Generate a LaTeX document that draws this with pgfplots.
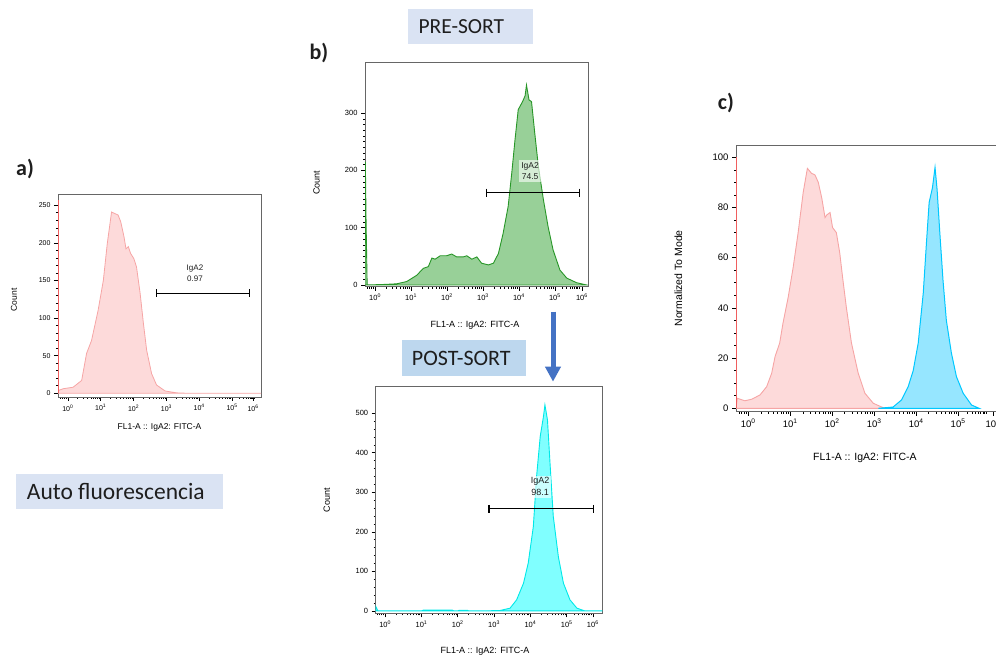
\documentclass[border=0pt]{standalone}
\usepackage{pgfplots}
\pgfplotsset{compat=1.18}
\usepackage{fontspec}
\setmainfont{Liberation Sans}
\newfontfamily\calfont{Carlito}
\usetikzlibrary{arrows.meta}

\definecolor{pinkfill}{RGB}{253,218,218}
\definecolor{pinkline}{RGB}{246,165,165}
\definecolor{pinkspike}{RGB}{240,95,95}
\definecolor{greenfill}{RGB}{152,208,152}
\definecolor{greenline}{RGB}{40,150,40}
\definecolor{cyanfill}{RGB}{128,255,255}
\definecolor{cyanline}{RGB}{0,232,232}
\definecolor{skyfill}{RGB}{150,230,255}
\definecolor{skyline}{RGB}{0,200,255}
\definecolor{boxA}{RGB}{218,227,243}
\definecolor{boxB}{RGB}{189,215,238}
\definecolor{arrowblue}{RGB}{68,114,196}
\definecolor{txt}{RGB}{30,30,30}

\pgfplotsset{
  flow/.style={
    scale only axis,
    anchor=south west,
    axis line style={draw=black!60, line width=0.8pt},
    tick align=outside, tick pos=left,
    major tick length=4pt, minor tick length=2pt,
    every tick/.style={black, line width=0.6pt},
    xticklabels={10\textsuperscript{0},10\textsuperscript{1},10\textsuperscript{2},10\textsuperscript{3},10\textsuperscript{4},10\textsuperscript{5},10\textsuperscript{6}},
    minor xtick={-0.222,-0.155,-0.097,-0.046,
      0.301,0.477,0.602,0.699,0.778,0.845,0.903,0.954,
      1.301,1.477,1.602,1.699,1.778,1.845,1.903,1.954,
      2.301,2.477,2.602,2.699,2.778,2.845,2.903,2.954,
      3.301,3.477,3.602,3.699,3.778,3.845,3.903,3.954,
      4.301,4.477,4.602,4.699,4.778,4.845,4.903,4.954,
      5.21,5.33,5.42,5.49,5.54,5.59,5.63,5.67},
    /pgf/number format/assume math mode=true,
    xlabel={FL1-A :: IgA2: FITC-A},
    xlabel style={anchor=center},
    ylabel style={anchor=center},
  },
  gate/.style={black, line width=1.1pt, mark=|, mark size=4pt, mark options={line width=1.1pt}},
}

\begin{document}
\begin{tikzpicture}
\useasboundingbox (0,0) rectangle (996pt,658pt);
\clip (0,0) rectangle (996pt,658pt);

% ---------- panel a ----------
\begin{axis}[flow, at={(58pt,261pt)}, width=203pt, height=203pt,
  xmin=-0.30, xmax=5.88, ymin=-5, ymax=265,
  xtick={0,1,2,3,4,5,5.64},
  ytick={0,50,100,150,200,250}, minor y tick num=4,
  tick label style={font=\fontsize{7}{8}\selectfont},
  label style={font=\fontsize{8.5}{10}\selectfont},
  ylabel={Count},
  xlabel style={at={(rel axis cs:0.5,-0.152)}},
  ylabel style={at={(rel axis cs:-0.217,0.478)}}]
\addplot[draw=pinkline, fill=pinkfill, line width=0.8pt] coordinates {
(-0.29,0) (-0.27,4) (-0.14,6) (0.16,8) (0.42,17) (0.57,53) (0.72,70) (0.92,110)
(1.08,150) (1.20,199) (1.33,241) (1.43,239) (1.53,237) (1.61,228) (1.71,208)
(1.77,192) (1.84,195) (1.91,186) (2.01,179) (2.09,168) (2.20,133) (2.30,93)
(2.40,57) (2.55,26) (2.70,11) (2.96,3) (3.31,0.5) (3.62,0) (5.88,0)} \closedcycle;
\addplot[pinkspike, line width=1pt] coordinates {(-0.29,0) (-0.29,257)};
\addplot[gate] coordinates {(2.71,133) (5.52,133)};
\node[font=\fontsize{8}{11}\selectfont, align=center, text=txt] at (axis cs:3.87,159) {IgA2\\0.97};
\end{axis}

% ---------- panel b: pre-sort ----------
\begin{axis}[flow, at={(365pt,371.3pt)}, width=223pt, height=224pt,
  xmin=-0.28, xmax=5.92, ymin=-3, ymax=388,
  xtick={0,1,2,3,4,5,5.75},
  ytick={0,100,200,300}, minor y tick num=9,
  tick label style={font=\fontsize{7.5}{8}\selectfont},
  label style={font=\fontsize{9}{10}\selectfont},
  ylabel={Count},
  xlabel style={at={(rel axis cs:0.493,-0.171)}},
  ylabel style={at={(rel axis cs:-0.217,0.463)}}]
\addplot[draw=greenline, fill=greenfill, line width=0.9pt] coordinates {
(-0.28,0) (-0.27,215) (-0.25,110) (-0.22,0) (0.28,1) (0.60,2) (0.88,6) (1.16,17)
(1.34,29) (1.48,32) (1.58,47) (1.67,45) (1.81,51) (1.99,51) (2.13,54) (2.27,49)
(2.45,49) (2.55,51) (2.69,45) (2.83,49) (2.96,38) (3.15,35) (3.29,38) (3.43,55)
(3.56,90) (3.70,137) (3.80,195) (3.89,253) (3.98,306) (4.10,320) (4.17,330)
(4.21,349) (4.28,323) (4.35,320) (4.44,265) (4.54,207) (4.68,149) (4.81,102)
(4.95,61) (5.14,26) (5.33,12) (5.60,4) (5.88,0)} \closedcycle;
\addplot[gate] coordinates {(3.10,161) (5.68,161)};
\node[font=\fontsize{8.5}{11.5}\selectfont, align=center, text=txt, fill=white, fill opacity=0.6, text opacity=1, inner sep=2pt] at (axis cs:4.31,199) {IgA2\\74.5};
\end{axis}

% ---------- panel b: post-sort ----------
\begin{axis}[flow, at={(375.7pt,44.7pt)}, width=226.6pt, height=226.6pt,
  xmin=-0.26, xmax=5.98, ymin=-6, ymax=567,
  xtick={0,1,2,3,4,5,5.72},
  ytick={0,100,200,300,400,500}, minor y tick num=4,
  tick label style={font=\fontsize{7.5}{8}\selectfont},
  label style={font=\fontsize{9}{10}\selectfont},
  ylabel={Count},
  xlabel style={at={(rel axis cs:0.482,-0.169)}},
  ylabel style={at={(rel axis cs:-0.216,0.5)}}]
\addplot[draw=cyanline, fill=cyanfill, line width=0.9pt] coordinates {
(-0.26,0) (-0.255,11) (-0.20,0) (1.0,0) (1.05,2) (1.85,2) (1.9,0) (2.0,0) (2.03,1.5)
(2.27,1.5) (2.3,0) (2.89,0.5) (3.16,1) (3.44,7) (3.62,28) (3.81,70) (3.94,121)
(4.08,213) (4.17,340) (4.27,441) (4.36,492) (4.40,521) (4.47,483) (4.54,374)
(4.63,239) (4.77,137) (4.91,70) (5.09,28) (5.28,7) (5.50,0) (5.98,0)} \closedcycle;
\addplot[gate] coordinates {(2.86,258) (5.73,258)};
\node[font=\fontsize{9}{12}\selectfont, align=center, text=txt, fill=white, fill opacity=0.6, text opacity=1, inner sep=2pt] at (axis cs:4.27,314) {IgA2\\98.1};
\end{axis}

% ---------- panel c ----------
\begin{axis}[flow, at={(736pt,246.3pt)}, width=262pt, height=266.7pt,
  xmin=-0.29, xmax=5.95, ymin=-1.35, ymax=104.9,
  xtick={0,1,2,3,4,5,5.83},
  ytick={0,20,40,60,80,100}, minor y tick num=3,
  tick label style={font=\fontsize{9.5}{10}\selectfont},
  label style={font=\fontsize{10.5}{12}\selectfont},
  ylabel={Normalized To Mode},
  xlabel style={at={(rel axis cs:0.492,-0.175)}},
  ylabel style={at={(rel axis cs:-0.22,0.5)}}]
\addplot[draw=pinkline, fill=pinkfill, line width=0.9pt] coordinates {
(-0.29,0) (-0.26,4) (-0.08,3) (0.08,3.6) (0.28,5.3) (0.44,8.6) (0.56,14) (0.64,20.6)
(0.75,26) (0.83,34) (0.95,44) (1.07,56) (1.19,70) (1.31,86) (1.41,95.6) (1.51,93.6)
(1.59,93) (1.67,90) (1.75,84) (1.83,76) (1.87,77) (1.95,78) (2.01,72) (2.10,70)
(2.18,62) (2.25,52) (2.34,40) (2.46,26) (2.62,14) (2.78,6) (2.98,2) (3.21,0.3) (3.4,0)} \closedcycle;
\addplot[pinkspike, line width=1pt] coordinates {(-0.28,0) (-0.28,100)};
\addplot[draw=skyline, fill=skyfill, line width=1pt] coordinates {
(3.1,0) (3.45,0.5) (3.65,3.3) (3.81,8.6) (3.93,15) (4.05,26) (4.17,46) (4.25,67)
(4.31,82) (4.39,88) (4.45,96) (4.50,87) (4.56,71) (4.64,51) (4.72,35) (4.84,22)
(4.96,12.6) (5.12,6) (5.32,1.3) (5.5,0)} \closedcycle;
\end{axis}

% ---------- annotations ----------
\node[font=\calfont\bfseries\fontsize{22}{24}\selectfont, text=txt] at (25pt,489pt) {a)};
\node[font=\calfont\bfseries\fontsize{22}{24}\selectfont, text=txt] at (319pt,605pt) {b)};
\node[font=\calfont\bfseries\fontsize{22}{24}\selectfont, text=txt] at (726pt,555pt) {c)};

\fill[boxA] (16pt,148.7pt) rectangle (222.7pt,184pt);
\node[anchor=west, font=\calfont\fontsize{23.5}{26}\selectfont, text=txt, inner sep=0pt] at (26.7pt,166.3pt) {Auto fluorescencia};

\fill[boxA] (408.3pt,613.7pt) rectangle (533.3pt,648.7pt);
\node[anchor=west, font=\calfont\fontsize{21.5}{24}\selectfont, text=txt, inner sep=0pt] at (418.3pt,631.2pt) {PRE-SORT};

\fill[boxB] (401.7pt,282pt) rectangle (526pt,318pt);
\node[anchor=west, font=\calfont\fontsize{22}{24}\selectfont, text=txt, inner sep=0pt] at (411.7pt,300pt) {POST-SORT};

\draw[arrowblue, line width=5pt, -{Triangle[width=15pt,length=15pt]}] (553pt,346.3pt) -- (553pt,276.3pt);
\end{tikzpicture}
\end{document}
